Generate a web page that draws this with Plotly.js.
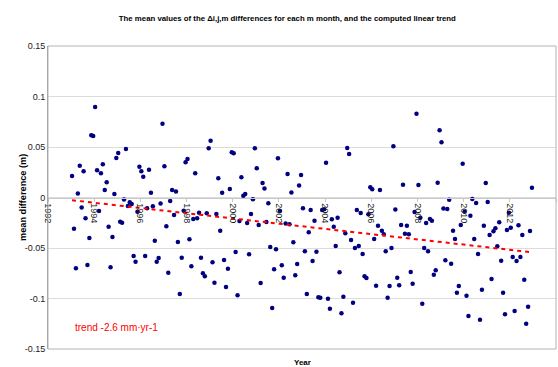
<!DOCTYPE html>
<html><head><meta charset="utf-8">
<script src="https://cdn.plot.ly/plotly-3.0.1.min.js"></script>
<style>html,body{margin:0;padding:0;background:#fff}#c{width:558px;height:367px}</style>
</head><body><div id="c"></div>
<script>
var startYear = 1993;
var values = [
0.0213,-0.031,-0.070,0.004,0.0315,-0.010,0.026,-0.0206,-0.0668,-0.040,
0.0616,0.061,0.0896,0.027,-0.0134,0.024,0.033,0.0074,0.015,-0.029,
-0.069,-0.039,0.0035,0.039,0.044,-0.024,-0.025,-0.002,0.048,-0.0084,
-0.0048,-0.0064,-0.058,-0.0635,-0.014,0.0305,0.026,0.0206,-0.058,-0.0107,
0.0275,0.0048,-0.0087,-0.0428,-0.0635,-0.060,-0.006,0.073,0.031,-0.0285,
-0.0744,-0.0035,0.0074,-0.0173,0.006,-0.044,-0.0955,-0.0596,-0.013,0.035,
0.038,-0.0414,-0.068,-0.0213,0.024,-0.0206,-0.015,
-0.0596,-0.075,-0.078,-0.0157,0.0487,0.0562,-0.064,-0.0843,-0.0163,0.019,
-0.0328,0.0048,-0.0619,-0.0886,-0.0705,0.0084,0.0447,0.0437,-0.054,-0.0968,
-0.0233,0.020,0.0018,0.0035,-0.0252,-0.0563,-0.0163,-0.0018,0.0487,0.029,
-0.0272,-0.0847,0.0144,0.009,-0.0243,-0.0057,-0.049,-0.1094,-0.0711,-0.0513,
0.0388,-0.0134,-0.0671,-0.0794,-0.0257,0.0233,-0.0265,0.005,-0.0444,-0.077,
-0.0658,0.012,0.0223,-0.0107,-0.0533,-0.0955,-0.0345,
-0.0124,-0.0629,-0.023,-0.0536,-0.0988,-0.0992,-0.0124,-0.0117,0.0345,-0.1002,
-0.1101,-0.0216,-0.0289,-0.048,-0.020,-0.074,-0.1147,-0.0982,-0.0355,0.049,
0.043,-0.042,-0.1042,-0.050,-0.0124,-0.048,-0.0153,-0.056,-0.078,-0.0797,
-0.0167,0.0101,0.0081,-0.0411,-0.0873,-0.0279,0.0074,-0.0329,-0.0365,-0.0533,
-0.0992,-0.0876,-0.050,0.0507,-0.012,-0.0794,-0.0869,-0.0272,0.0127,-0.0358,
-0.0279,-0.0365,-0.0738,-0.0853,-0.0144,0.083,0.0124,
-0.020,
-0.1051,-0.050,-0.0252,-0.0533,-0.0213,-0.023,-0.0764,-0.0721,0.0147,0.0665,
0.0547,-0.011,-0.0622,-0.0114,-0.0022,-0.0655,-0.0329,-0.0411,-0.0943,-0.0876,
-0.0272,0.0335,-0.014,-0.0972,-0.1173,-0.018,-0.0015,-0.0411,-0.0054,-0.056,
-0.121,-0.0913,-0.0279,0.0144,-0.0045,-0.0371,-0.0807,-0.0335,-0.0305,-0.0483,
-0.0246,-0.0626,-0.0943,-0.1156,-0.0322,-0.015,-0.030,-0.0589,-0.1124,-0.0629,
-0.0275,-0.0589,-0.0371,-0.0814,-0.125,-0.1081,-0.0332,0.0097
];
var trendX = [1993.04, 2012.96];
var trendY = [-0.0027, -0.0543];
var xTicks = [1992,1994,1996,1998,2000,2002,2004,2006,2008,2010,2012,2014];
var yTicks = [0.15,0.1,0.05,0,-0.05,-0.1,-0.15];
var yTickText = ['0.15','0.1','0.05','0','-0.05','-0.1','-0.15'];
var titleText = 'The mean values of the Δi,j,m differences for each m month, and the computed linear trend';
var trendLabel = 'trend -2.6 mm·yr-1';

var months = values.map(function(v,i){ return startYear + (i+0.5)/12; });
var font = 'Liberation Sans, Arial, sans-serif';

var data = [
  {x: months, y: values, type:'scatter', mode:'markers',
   marker:{color:'#000080', size:4.5}, hoverinfo:'none', cliponaxis:false},
  {x: trendX, y: trendY, type:'scatter', mode:'lines',
   line:{color:'#ff0000', width:2, dash:'4px,4px'}, hoverinfo:'none'}
];
var layout = {
  width:558, height:367,
  margin:{l:48, r:2, t:46, b:18},
  paper_bgcolor:'#fff', plot_bgcolor:'#fff',
  showlegend:false,
  font:{family:font, size:8.5, color:'#222'},
  title:{text:'<b>'+titleText+'</b>', font:{family:font, size:7.8, color:'#000'},
         x:0.515, xanchor:'center', y:0.951, yanchor:'middle'},
  xaxis:{range:[1992,2014], tickvals:xTicks, ticktext:xTicks.map(String),
         tickangle:90, anchor:'free', position:0.5, showgrid:false, zeroline:false,
         showline:true, linecolor:'#c8c8c8', linewidth:1, ticks:'outside', ticklen:3,
         tickcolor:'#c8c8c8', tickfont:{size:9, color:'#1a1a1a'}},
  yaxis:{range:[-0.15,0.15], tickvals:yTicks, ticktext:yTickText,
         showgrid:true, gridcolor:'#dcdcdc', zeroline:false,
         showline:true, linecolor:'#999', linewidth:1, ticks:'',
         tickfont:{size:9, color:'#1a1a1a'}},
  shapes:[{type:'rect', xref:'paper', yref:'paper', x0:0, x1:1, y0:0, y1:1,
           line:{color:'#b4b4b4', width:1}}],
  annotations:[
    {text:'<b>mean difference (m)</b>', xref:'paper', yref:'paper', x:-0.064, y:0.5,
     textangle:-90, showarrow:false, font:{size:9.2, color:'#000'}},
    {text:'<b>Year</b>', xref:'paper', yref:'paper', x:0.5, y:-0.045, yanchor:'middle',
     showarrow:false, font:{size:8, color:'#000'}},
    {text:trendLabel, xref:'paper', yref:'paper', x:0.049, xanchor:'left', y:0.07, yanchor:'middle',
     showarrow:false, font:{size:10, color:'#ff0000'}}
  ]
};
Plotly.newPlot('c', data, layout, {staticPlot:true, displayModeBar:false});
</script></body></html>
